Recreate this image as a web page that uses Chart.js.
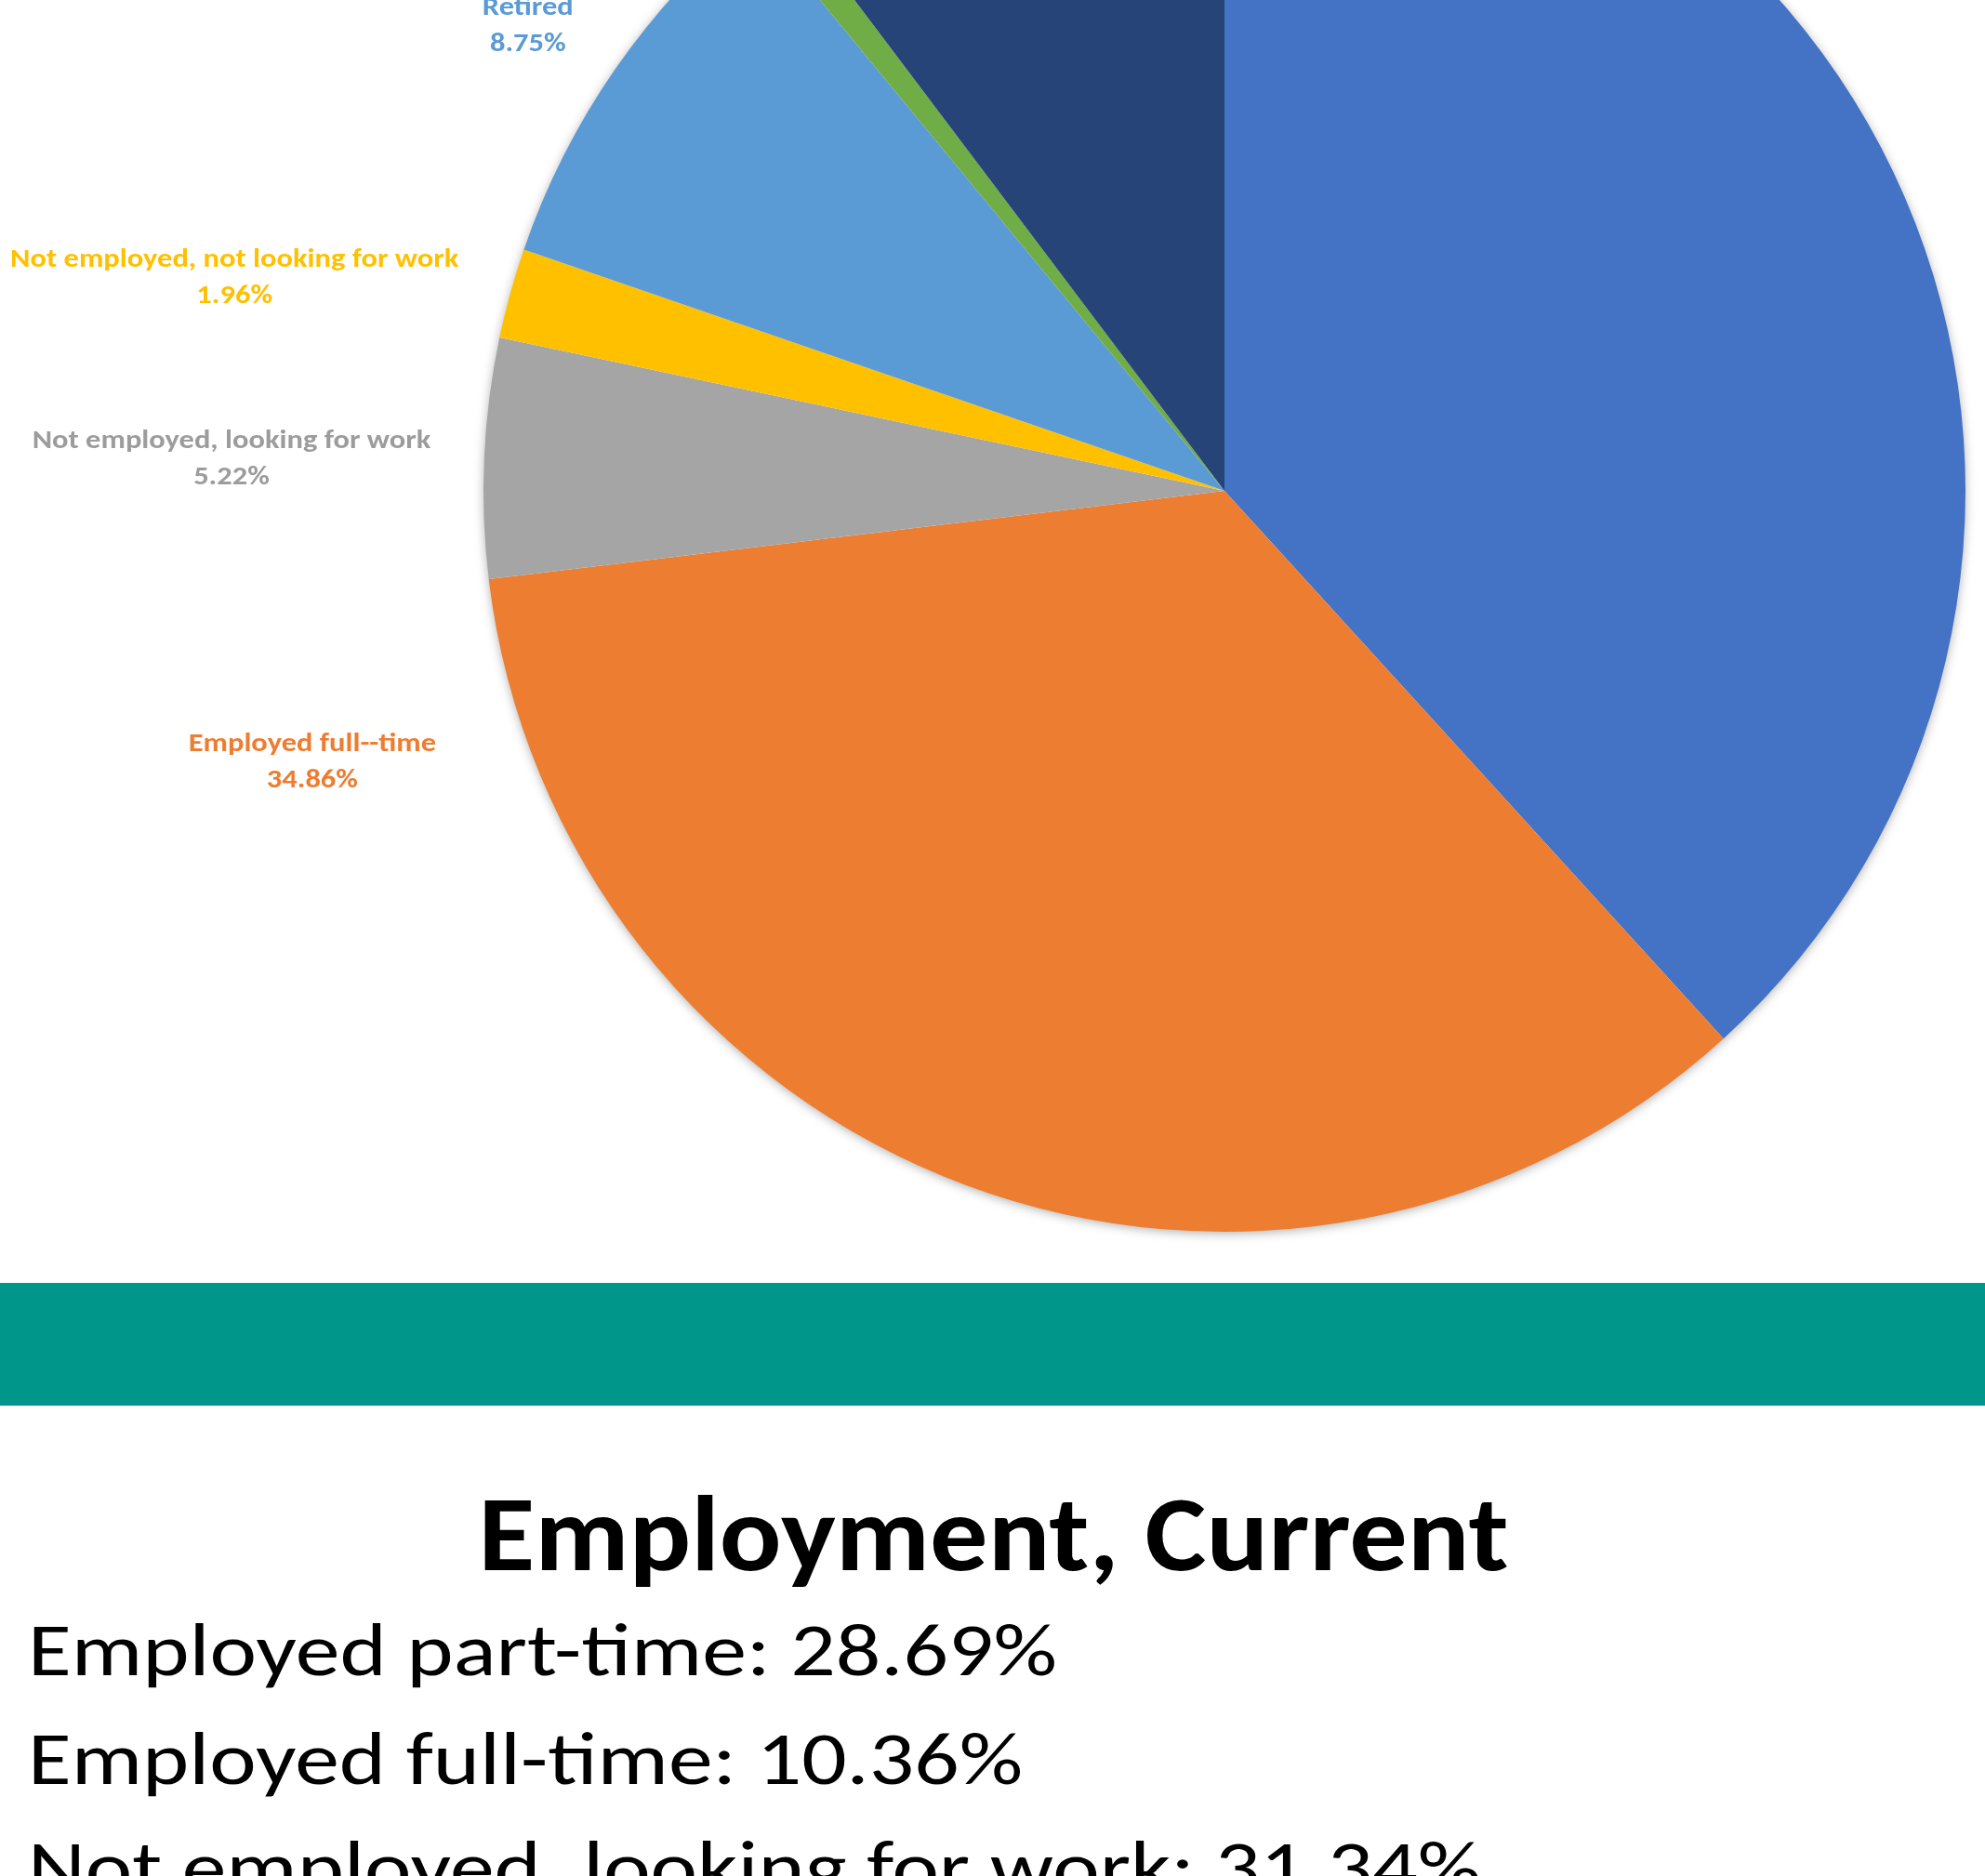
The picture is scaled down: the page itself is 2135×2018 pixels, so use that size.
<!DOCTYPE html>
<html>
<head>
<meta charset="utf-8">
<title>Employment, Current</title>
<script src="https://cdn.jsdelivr.net/npm/chart.js@4.4.1/dist/chart.umd.min.js"></script>
<style>
  html, body { margin: 0; padding: 0; background: #fff; overflow: hidden; }
  body { width: 2135px; height: 2018px; position: relative; font-family: Carlito, Lato, sans-serif; }
  #pieBox { position: absolute; left: 0; top: -300px; width: 2135px; height: 1679px; }
  #band { position: absolute; left: 0; top: 1380px; width: 2135px; height: 132px; background: #00978a; }
  .txt { position: absolute; left: 0; top: 0; white-space: nowrap; color: #000; line-height: 1.2; }
  #title { font-weight: 700; font-size: 116px; }
  .line { font-size: 81px; }
</style>
</head>
<body>
<div id="pieBox"><canvas id="pie" width="2135" height="1679"></canvas></div>
<div id="band"></div>
<div class="txt" id="title">Employment, Current</div>
<div class="txt line" id="l1">Employed part-time: 28.69%</div>
<div class="txt line" id="l2">Employed full-time: 10.36%</div>
<div class="txt line" id="l3">Not employed, looking for work: 31.34%</div>

<script>
// slices, clockwise from 12 o'clock
const categories = [
  'Employed part-time',
  'Employed full--time',
  'Not employed, looking for work',
  'Not employed, not looking for work',
  'Retired',
  'Student',
  'Disabled'
];
const shares = [38.24, 34.86, 5.22, 1.96, 8.75, 0.69, 10.28];
const sliceColors = ['#4472c4', '#ed7d31', '#a5a5a5', '#ffc000', '#5b9bd5', '#70ad47', '#264478'];

// where the outside labels sit, in units of the pie radius from its centre
// (first-line baseline); null = label not shown
const labelAnchors = [null, [-1.231, 0.351], [-1.340, -0.058], [-1.336, -0.302], [-0.940, -0.642], null, null];
const labelColors = ['#4472c4', '#ed7d31', '#9c9c9c', '#ffc000', '#5b9bd5', '#70ad47', '#264478'];

const pieShadow = {
  id: 'pieShadow',
  beforeDatasetsDraw(chart) {
    const arc = chart.getDatasetMeta(0).data[0];
    if (!arc) return;
    const { x, y, outerRadius } = arc.getProps(['x', 'y', 'outerRadius'], true);
    const ctx = chart.ctx;
    ctx.save();
    ctx.shadowColor = 'rgba(0,0,0,0.35)';
    ctx.shadowBlur = 12;
    ctx.shadowOffsetY = 2;
    ctx.fillStyle = '#fff';
    ctx.beginPath();
    ctx.arc(x, y, outerRadius - 1, 0, Math.PI * 2);
    ctx.fill();
    ctx.restore();
  }
};

const outsideLabels = {
  id: 'outsideLabels',
  afterDatasetsDraw(chart) {
    const ctx = chart.ctx;
    chart.getDatasetMeta(0).data.forEach((arc, i) => {
      const a = labelAnchors[i];
      if (!a) return;
      const { x, y, outerRadius: r } = arc.getProps(['x', 'y', 'outerRadius'], true);
      ctx.save();
      ctx.translate(x + a[0] * r, y + a[1] * r);
      ctx.scale(1.12, 1);   // labels run a little wider than the fallback font
      ctx.fillStyle = labelColors[i];
      ctx.font = 'bold 29px Carlito, Lato, sans-serif';
      ctx.textAlign = 'center';
      ctx.textBaseline = 'alphabetic';
      ctx.fillText(categories[i], 0, 0);
      ctx.fillText(shares[i].toFixed(2) + '%', 0, 39);
      ctx.restore();
    });
  }
};

function drawPie() {
  new Chart(document.getElementById('pie').getContext('2d'), {
    type: 'pie',
    data: {
      labels: categories,
      datasets: [{
        data: shares,
        backgroundColor: sliceColors,
        borderWidth: 0,
        offset: 0,
        hoverOffset: 0
      }]
    },
    options: {
      responsive: false,
      animation: false,
      layout: { padding: { left: 520, right: 21, top: 31, bottom: 54 } },
      plugins: {
        legend: { display: false },
        tooltip: { enabled: false }
      }
    },
    plugins: [pieShadow, outsideLabels]
  });
}

// put a text block on a baseline and stretch it to a given width
function placeText(id, x, baseline, width, align) {
  const el = document.getElementById(id);
  const mark = document.createElement('span');
  mark.style.cssText = 'display:inline-block;width:0;height:0;vertical-align:baseline';
  el.appendChild(mark);
  const box = el.getBoundingClientRect();
  const base = mark.getBoundingClientRect().bottom - box.top;
  const sx = width / box.width;
  el.style.top = (baseline - base) + 'px';
  if (align === 'center') {
    el.style.left = (x - box.width / 2) + 'px';
    el.style.transformOrigin = '50% 50%';
  } else {
    el.style.left = x + 'px';
    el.style.transformOrigin = '0 50%';
  }
  el.style.transform = 'scaleX(' + sx + ')';
}

document.fonts.ready.then(() => {
  drawPie();
  placeText('title', 1069, 1689, 1108, 'center');
  placeText('l1', 30, 1802, 1107, 'left');
  placeText('l2', 30, 1919, 1070, 'left');
  placeText('l3', 30, 2036, 1563, 'left');
});
</script>
</body>
</html>
